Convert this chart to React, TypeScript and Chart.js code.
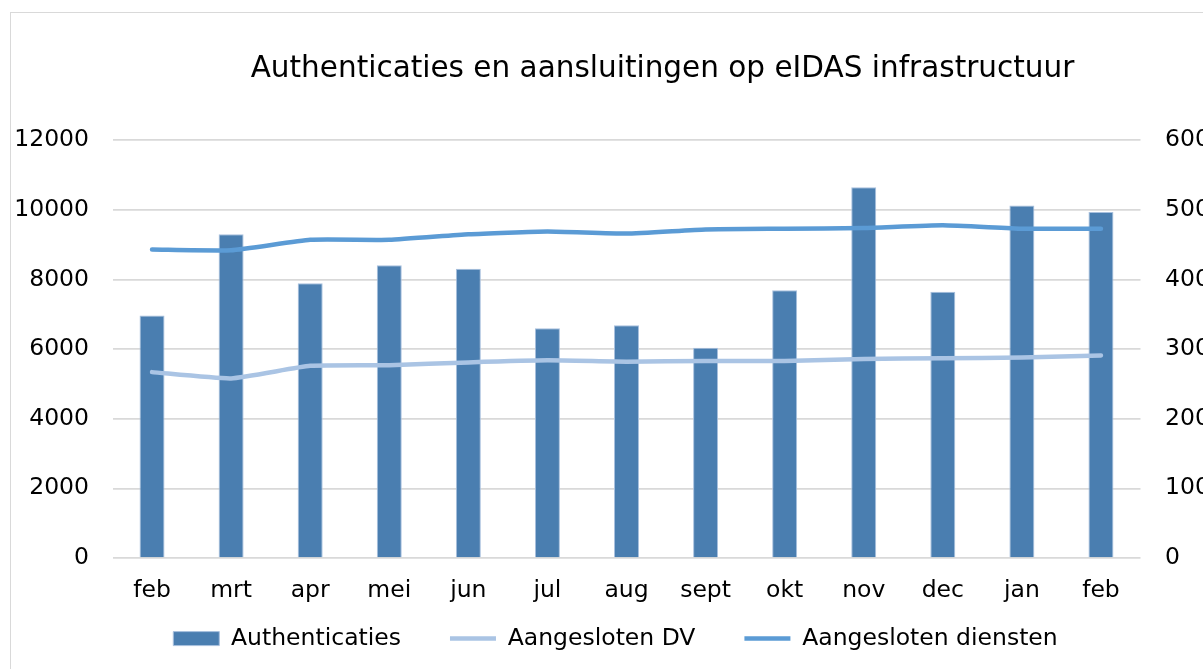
import React, { useEffect, useRef } from 'react';
import { Chart, registerables } from 'chart.js';

Chart.register(...registerables);

const months = ['feb', 'mrt', 'apr', 'mei', 'jun', 'jul', 'aug', 'sept', 'okt', 'nov', 'dec', 'jan', 'feb'];
const authenticaties = [6970, 9300, 7890, 8410, 8310, 6600, 6690, 6040, 7690, 10650, 7650, 10130, 9940];
const aangeslotenDV = [267, 258, 276, 277, 281, 284, 282, 283, 283, 286, 287, 288, 291];
const aangeslotenDiensten = [443, 442, 457, 457, 465, 469, 466, 472, 473, 474, 478, 473, 473];

const TITLE = 'Authenticaties en aansluitingen op eIDAS infrastructuur';
const FONT = "'DejaVu Sans', Verdana, sans-serif";

const nudgePlugin = {
  id: 'nudge',
  afterLayout(chart: any) {
    const t = chart.titleBlock;
    if (t) { t.left += 61; t.right += 61; }
    const l = chart.legend;
    if (l) {
      l.left += 14;
      l.right += 14;
      l.top = 577.85;
      l.bottom = chart.height;
      l.height = l.bottom - l.top;
    }
  },
};

export default function App() {
  const ref = useRef<HTMLCanvasElement>(null);
  useEffect(() => {
    const chart = new Chart(ref.current as HTMLCanvasElement, {
      type: 'bar',
      data: {
        labels: months,
        datasets: [
          {
            type: 'bar',
            label: 'Authenticaties',
            data: authenticaties,
            backgroundColor: '#4a7eb0',
            borderColor: '#a8c0de',
            borderWidth: 1,
            barPercentage: 0.316,
            categoryPercentage: 1,
            yAxisID: 'y',
            order: 2,
            pointStyle: 'rect',
          } as any,
          {
            type: 'line',
            label: 'Aangesloten DV',
            data: aangeslotenDV,
            borderColor: '#aac4e4',
            backgroundColor: '#aac4e4',
            borderWidth: 4.5,
            borderCapStyle: 'round',
            borderJoinStyle: 'round',
            pointRadius: 0,
            pointStyle: 'line',
            tension: 0.15,
            yAxisID: 'y1',
            order: 0,
          } as any,
          {
            type: 'line',
            label: 'Aangesloten diensten',
            data: aangeslotenDiensten,
            borderColor: '#5b9bd5',
            backgroundColor: '#5b9bd5',
            borderWidth: 4.5,
            borderCapStyle: 'round',
            borderJoinStyle: 'round',
            pointRadius: 0,
            pointStyle: 'line',
            tension: 0.15,
            yAxisID: 'y1',
            order: 0,
          } as any,
        ],
      },
      options: {
        responsive: false,
        maintainAspectRatio: false,
        devicePixelRatio: 1,
        animation: false,
        layout: { padding: { left: 0, right: 0, top: 0, bottom: 0 } },
        plugins: {
          title: {
            display: true,
            text: TITLE,
            color: '#000',
            font: { family: FONT, size: 29.5, weight: 'normal' },
            padding: { top: 51.4, bottom: 53.5 },
          },
          legend: {
            display: true,
            position: 'bottom',
            maxHeight: 45.8,
            labels: {
              usePointStyle: true,
              pointStyleWidth: 46,
              boxHeight: 14,
              padding: 49,
              color: '#000',
              font: { family: FONT, size: 23.5 },
              sort: (a: any, b: any) => a.datasetIndex - b.datasetIndex,
            },
          },
          tooltip: { enabled: false },
        },
        scales: {
          x: {
            grid: { display: false, drawTicks: false },
            border: { display: false },
            ticks: { color: '#000', font: { family: FONT, size: 23.5 }, padding: 18.5, maxRotation: 0, autoSkip: false },
          },
          y: {
            position: 'left',
            min: 0,
            max: 12000,
            grid: { color: '#d9d9d9', lineWidth: 1.7, drawTicks: false },
            border: { display: false },
            ticks: { stepSize: 2000, color: '#000', font: { family: FONT, size: 23.5 }, padding: 23.5, callback: (v: any) => String(v) },
            afterFit: (s: any) => { s.width = 112.5; },
          },
          y1: {
            position: 'right',
            min: 0,
            max: 600,
            grid: { display: false, drawTicks: false },
            border: { display: false },
            ticks: { stepSize: 100, color: '#000', font: { family: FONT, size: 23.5 }, padding: 24.5, callback: (v: any) => String(v) },
            afterFit: (s: any) => { s.width = 62.5; },
          },
        },
      } as any,
      plugins: [nudgePlugin],
    });
    return () => chart.destroy();
  }, []);

  return (
    <div style={{ position: 'fixed', left: 0, top: 0, width: 1203, height: 669, background: '#fff', overflow: 'hidden' }}>
      <div
        style={{
          position: 'absolute',
          left: 10,
          top: 12,
          width: 1400,
          height: 900,
          borderLeft: '1px solid #d9d9d9',
          borderTop: '1px solid #d9d9d9',
          boxSizing: 'border-box',
        }}
      />
      <canvas
        ref={ref}
        width={1203}
        height={669}
        style={{ position: 'absolute', left: 0, top: 0, width: 1203, height: 669 }}
      />
    </div>
  );
}
